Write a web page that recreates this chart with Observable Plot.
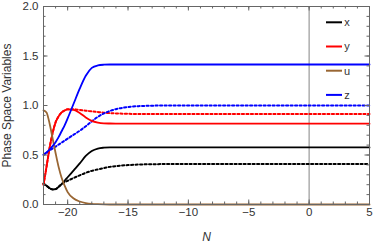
<!DOCTYPE html>
<html><head><meta charset="utf-8">
<script src="https://cdn.jsdelivr.net/npm/d3@7"></script>
<script src="https://cdn.jsdelivr.net/npm/@observablehq/plot@0.6"></script>
<style>
body{margin:0;background:#fff;font-family:"Liberation Sans",Arial,sans-serif}
#chart{width:374px;height:246px}
</style>
</head><body><div id="chart"></div>
<script>
// e-fold grid
const N       = [-22, -21.75, -21.5, -21.25, -21, -20.75, -20.5, -20.25, -20, -19.5, -19, -18.5, -18, -17.5, -17, -16.5, -16, -15, -14, -13, -12, -10, -5, 0, 5];
// solid curves
const xSolid  = [0.21, 0.19, 0.165, 0.152, 0.156, 0.178, 0.207, 0.24, 0.275, 0.345, 0.415, 0.49, 0.54, 0.565, 0.574, 0.577, 0.577, 0.577, 0.577, 0.577, 0.577, 0.577, 0.577, 0.577, 0.577];
const ySolid  = [0.20, 0.38, 0.57, 0.72, 0.83, 0.89, 0.93, 0.95, 0.96, 0.955, 0.925, 0.88, 0.845, 0.828, 0.82, 0.818, 0.817, 0.816, 0.816, 0.816, 0.816, 0.816, 0.816, 0.816, 0.816];
const uSolid  = [0.95, 0.93, 0.82, 0.67, 0.52, 0.38, 0.27, 0.19, 0.125, 0.06, 0.03, 0.014, 0.006, 0.003, 0.001, 0, 0, 0, 0, 0, 0, 0, 0, 0, 0];
const zSolid  = [0.505, 0.525, 0.555, 0.59, 0.63, 0.68, 0.74, 0.80, 0.87, 1.02, 1.17, 1.30, 1.38, 1.405, 1.412, 1.414, 1.414, 1.414, 1.414, 1.414, 1.414, 1.414, 1.414, 1.414, 1.414];
// dotted curves
const xDotted = [0.21, 0.19, 0.165, 0.152, 0.156, 0.178, 0.207, 0.225, 0.24, 0.268, 0.295, 0.32, 0.34, 0.355, 0.368, 0.38, 0.388, 0.398, 0.404, 0.407, 0.408, 0.408, 0.408, 0.408, 0.408];
const yDotted = [0.20, 0.38, 0.57, 0.72, 0.83, 0.89, 0.93, 0.95, 0.962, 0.962, 0.955, 0.947, 0.94, 0.934, 0.928, 0.923, 0.92, 0.916, 0.914, 0.913, 0.913, 0.913, 0.913, 0.913, 0.913];
const zDotted = [0.50, 0.522, 0.545, 0.565, 0.585, 0.605, 0.625, 0.645, 0.665, 0.705, 0.745, 0.79, 0.84, 0.885, 0.92, 0.945, 0.963, 0.985, 0.994, 0.998, 1.0, 1.0, 1.0, 1.0, 1.0];

const seriesNames  = ["x", "y", "u", "z"];
const seriesColors = ["#000000", "#ff0000", "#996633", "#0000ff"];
const xTicksMajor  = [-20, -15, -10, -5, 0, 5];
const xTickLabels  = ["−20", "−15", "−10", "−5", "0", "5"];
const yTicksMajor  = [0, 0.5, 1, 1.5, 2];
const yTickLabels  = ["0.0", "0.5", "1.0", "1.5", "2.0"];
const xLabel = "N";
const yLabel = "Phase Space Variables";

const solidSeries  = [xSolid, ySolid, uSolid, zSolid];
const dottedSeries = [xDotted, yDotted, null, zDotted];
const rows = vals => N.map((n, i) => ({N: n, v: vals[i]}));

const W = 374, H = 246, mL = 43, mR = 5, mT = 6, mB = 42;
const PW = W - mL - mR, PH = H - mT - mB;
const frameColor = "#666";
const xMinor = d3.range(-22, 5.5, 1);
const yMinor = d3.range(0, 2.05, 0.1);

const lineMarks = [];
dottedSeries.forEach((vals, i) => {
  if (!vals) return;
  lineMarks.push(Plot.line(rows(vals), {x: "N", y: "v", stroke: seriesColors[i], strokeWidth: 2, strokeDasharray: "2.2,2.3", curve: "monotone-x"}));
});
solidSeries.forEach((vals, i) => {
  lineMarks.push(Plot.line(rows(vals), {x: "N", y: "v", stroke: seriesColors[i], strokeWidth: 1.8, curve: "monotone-x"}));
});

const legend = (index, scales, values, dims) => {
  const g = d3.create("svg:g");
  const x0 = dims.width - dims.marginRight - 43;
  seriesNames.forEach((s, i) => {
    const y = dims.marginTop + 16.3 + i * 24.2;
    g.append("line").attr("x1", x0).attr("x2", x0 + 16).attr("y1", y).attr("y2", y)
      .attr("stroke", seriesColors[i]).attr("stroke-width", 2);
    g.append("text").attr("x", x0 + 21).attr("y", y).attr("dy", "0.35em")
      .attr("fill", "#333").attr("font-size", 11).text(s);
  });
  return g.node();
};

const chart = Plot.plot({
  width: W, height: H,
  marginLeft: mL, marginRight: mR, marginTop: mT, marginBottom: mB,
  style: {fontFamily: '"Liberation Sans", Arial, sans-serif', background: "#fff"},
  x: {domain: [-22, 5]},
  y: {domain: [0, 2]},
  marks: [
    Plot.ruleX([0], {stroke: "#999", strokeWidth: 1.2}),
    ...lineMarks,
    Plot.frame({stroke: frameColor, strokeWidth: 1}),
    // inward ticks, bottom and top
    Plot.ruleX(xMinor, {x: d => d, stroke: frameColor, insetTop: PH - 2.5}),
    Plot.ruleX(xTicksMajor, {x: d => d, stroke: frameColor, insetTop: PH - 4.5}),
    Plot.ruleX(xMinor, {x: d => d, stroke: frameColor, insetBottom: PH - 2.5}),
    Plot.ruleX(xTicksMajor, {x: d => d, stroke: frameColor, insetBottom: PH - 4.5}),
    // inward ticks, left and right
    Plot.ruleY(yMinor, {y: d => d, stroke: frameColor, insetRight: PW - 2.5}),
    Plot.ruleY(yTicksMajor, {y: d => d, stroke: frameColor, insetRight: PW - 4.5}),
    Plot.ruleY(yMinor, {y: d => d, stroke: frameColor, insetLeft: PW - 2.5}),
    Plot.ruleY(yTicksMajor, {y: d => d, stroke: frameColor, insetLeft: PW - 4.5}),
    Plot.axisX(xTicksMajor, {tickSize: 0, tickPadding: 3, fontSize: 11.5, fill: "#333", label: null,
      tickFormat: d => xTickLabels[xTicksMajor.indexOf(d)]}),
    Plot.axisY(yTicksMajor, {tickSize: 0, tickPadding: 5, fontSize: 11.5, fill: "#333", label: null,
      tickFormat: d => yTickLabels[yTicksMajor.indexOf(d)]}),
    Plot.text([yLabel], {frameAnchor: "left", dx: -36, rotate: -90, textAnchor: "middle", lineAnchor: "middle", fontSize: 12, fill: "#333", text: d => d}),
    Plot.text([xLabel], {frameAnchor: "bottom", dy: 33, textAnchor: "middle", lineAnchor: "middle", fontSize: 12, fontStyle: "italic", fill: "#333", text: d => d}),
    legend
  ]
});
document.getElementById("chart").appendChild(chart);
</script>
</body></html>
